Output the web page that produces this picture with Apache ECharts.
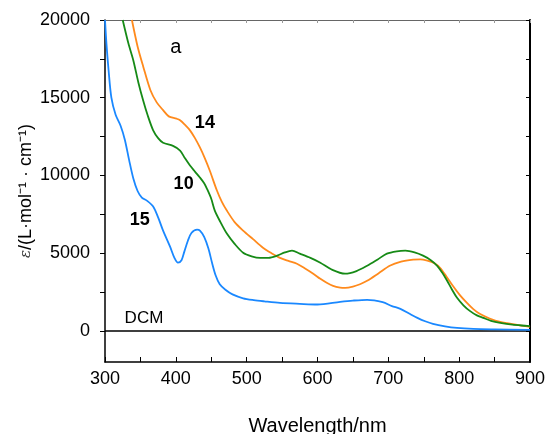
<!DOCTYPE html>
<html>
<head>
<meta charset="utf-8">
<script src="https://cdn.jsdelivr.net/npm/echarts@6/dist/echarts.min.js"></script>
<style>html,body{margin:0;padding:0;background:#fff}#c{width:547px;height:434px}</style>
</head>
<body>
<div id="c"></div>
<script>
// Compound 15 (blue)
var wl15  = [300,302,305,309,315,322,328,334,340,346,352,360,368,375,382,392,398,403,408,412,417,422,430,434,440,446,451,456,462,470,480,495,510,525,547,575,600,632,650,670,692,705,717,730,741,752,763,780,797,820,850,900];
var eps15 = [20000,18500,16800,15000,13900,13200,12300,11000,9800,9000,8580,8350,8000,7300,6450,5400,4700,4390,4550,5100,5800,6300,6510,6450,6050,5300,4400,3600,3000,2650,2350,2100,1980,1900,1800,1740,1700,1870,1950,2000,1850,1600,1420,1100,840,620,450,290,190,130,100,65];
// Compound 10 (green)
var wl10  = [325,333,340,347,354,360,368,375,382,396,406,413,420,427,434,440,444,450,455,463,472,483,495,507,519,531,543,554,564,575,590,604,620,639,655,670,685,698,712,724,737,749,760,769,776,783,790,797,806,815,825,834,845,858,875,896,900];
var eps10 = [20000,18500,17400,16000,14800,13900,12900,12400,12100,11900,11600,11100,10640,10250,9870,9500,9140,8500,7740,7000,6260,5600,5030,4800,4700,4700,4840,5050,5160,4970,4700,4390,3950,3680,3850,4190,4600,4970,5120,5160,5050,4840,4550,4190,3750,3225,2650,2130,1650,1290,1000,840,650,516,400,320,300];
// Compound 14 (orange)
var wl14  = [338,346,354,364,373,382,390,401,406,413,420,427,434,441,448,458,465,472,483,495,509,523,535,547,559,571,583,594,604,613,622,632,639,650,660,670,686,702,718,735,745,755,765,773,782,791,801,811,820,829,843,858,880,900];
var eps14 = [20000,18300,17000,15500,14700,14200,13800,13650,13550,13250,12900,12400,11800,11100,10300,9030,8300,7740,7000,6450,5900,5350,5000,4700,4500,4320,4000,3680,3350,3100,2900,2790,2770,2850,3000,3225,3700,4190,4450,4580,4600,4515,4350,4060,3500,2900,2300,1800,1400,1100,800,580,400,260];
// Solvent DCM baseline
var wlDCM  = [300,400,500,600,700,800,900];
var epsDCM = [0,0,0,0,0,0,0];

var xTicks = [300,400,500,600,700,800,900];
var yLabels = [0,5000,10000,15000,20000];
var yTicks = [0,2500,5000,7500,10000,12500,15000,17500,20000];

// annotation texts with their data positions
var annoText = ['a','14','10','15','DCM'];
var annoX    = [400,441,411,349,355];
var annoY    = [18250,13400,9420,7160,840];
var annoBold = [false,true,true,true,false];
var annoSize = [20,18,18,18,17];

function pairs(xs, ys){ return xs.map(function(x,i){ return [x, ys[i]]; }); }

var font = 'Liberation Sans, Arial, sans-serif';
var chart = echarts.init(document.getElementById('c'));
chart.setOption({
  animation:false,
  backgroundColor:'#fff',
  grid:{left:105,right:17,top:20,bottom:72,containLabel:false,outerBoundsMode:'none'},
  xAxis:[{
    type:'value',min:300,max:900,interval:100,position:'bottom',
    name:'Wavelength/nm',nameLocation:'middle',nameGap:54,nameMoveOverlap:false,
    nameTextStyle:{fontFamily:font,fontSize:20,color:'#000'},
    axisLine:{show:true,onZero:false,lineStyle:{color:'#000',width:1.5}},
    axisTick:{show:true,inside:true,length:5,lineStyle:{color:'#000'}},
    minorTick:{show:true,splitNumber:2,length:5,lineStyle:{color:'#000'}},
    axisLabel:{fontFamily:font,fontSize:18,color:'#000',margin:8,formatter:function(v){return String(v);}},
    splitLine:{show:false}
  },{
    type:'value',min:300,max:900,interval:50,position:'top',
    axisLine:{show:true,onZero:false,lineStyle:{color:'#666',width:1}},
    axisTick:{show:true,inside:true,length:3,lineStyle:{color:'#999'}},
    axisLabel:{show:false},splitLine:{show:false}
  }],
  yAxis:[{
    type:'value',min:-2000,max:20000,position:'left',
    name:'{e|ε}/(L·mol⁻¹ · cm⁻¹)',nameLocation:'middle',nameGap:70,nameRotate:90,nameMoveOverlap:false,
    nameTextStyle:{fontFamily:font,fontSize:18,color:'#000',
      rich:{e:{fontFamily:'DejaVu Serif, serif',fontStyle:'italic',fontSize:15,color:'#333'}}},
    axisLine:{show:true,onZero:false,lineStyle:{color:'#000',width:1.5}},
    axisTick:{show:true,inside:false,length:5,customValues:yTicks,lineStyle:{color:'#000'}},
    axisLabel:{fontFamily:font,fontSize:18,color:'#000',margin:15,customValues:yLabels,formatter:function(v){return String(v);}},
    splitLine:{show:false}
  },{
    type:'value',min:-2000,max:20000,position:'right',
    axisLine:{show:true,onZero:false,lineStyle:{color:'#000',width:2}},
    axisTick:{show:true,inside:true,length:4,customValues:yTicks,lineStyle:{color:'#000'}},
    axisLabel:{show:false},splitLine:{show:false}
  }],
  series:[
    {name:'DCM',type:'line',data:pairs(wlDCM,epsDCM),showSymbol:false,
     lineStyle:{color:'#000',width:1.5},z:1,
     markPoint:{symbol:'circle',symbolSize:0,
       data:annoText.map(function(t,i){return {coord:[annoX[i],annoY[i]],value:t,
         label:{show:true,position:'inside',formatter:t,color:'#000',fontFamily:font,
           fontSize:annoSize[i],fontWeight:annoBold[i]?'bold':'normal'}};})}},
    {name:'15',type:'line',data:pairs(wl15,eps15),showSymbol:false,smooth:0.3,
     lineStyle:{color:'#1a88ff',width:1.8},z:3},
    {name:'10',type:'line',data:pairs(wl10,eps10),showSymbol:false,smooth:0.3,
     lineStyle:{color:'#168a16',width:1.8},z:3},
    {name:'14',type:'line',data:pairs(wl14,eps14),showSymbol:false,smooth:0.3,
     lineStyle:{color:'#ff8a1c',width:1.8},z:2}
  ]
});
</script>
</body>
</html>
